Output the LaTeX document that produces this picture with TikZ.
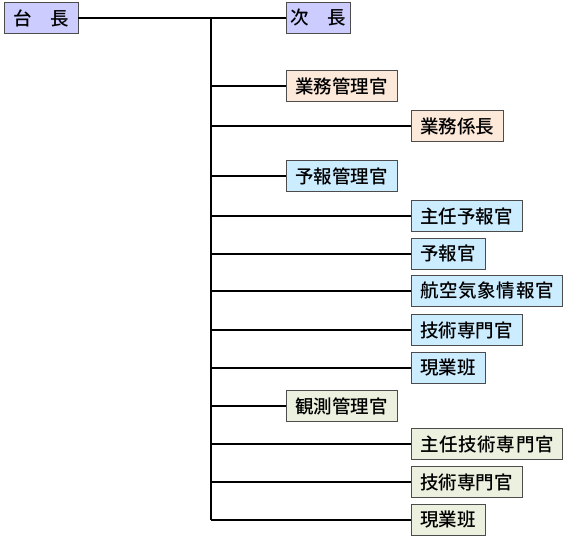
\documentclass[tikz,border=0pt]{standalone}
\usepackage{fontspec}
\setmainfont{Noto Sans CJK JP}[UprightFont=* Medium]
\newfontfamily\widefont{Noto Sans CJK JP}[UprightFont=* Medium,LetterSpace=3.5]
\definecolor{chief}{RGB}{204,204,255}
\definecolor{gyomu}{RGB}{253,233,217}
\definecolor{yoho}{RGB}{204,236,255}
\definecolor{kanso}{RGB}{235,241,222}
\tikzset{
  box/.style={draw=black!70, line width=0.8bp, inner xsep=9bp, inner ysep=0pt,
    minimum height=31bp, anchor=west, font=\fontsize{18.5bp}{20bp}\selectfont},
  wide/.style={font=\widefont\fontsize{18.5bp}{20bp}\selectfont},
  link/.style={line width=1.3bp}
}
\begin{document}
\begin{tikzpicture}[x=1bp,y=-1bp]
  \useasboundingbox (0,0) rectangle (565,544);
  \node[box,fill=chief] (dai) at (4,18) {台　長};
  \node[box,fill=chief,inner xsep=4bp] (ji) at (286,18) {次　長};
  \node[box,fill=gyomu] (gkan) at (286,86) {業務管理官};
  \node[box,fill=gyomu] (gkak) at (411,126) {業務係長};
  \node[box,fill=yoho] (ykan) at (286,176) {予報管理官};
  \node[box,fill=yoho] (syoho) at (411,216) {主任予報官};
  \node[box,fill=yoho] (yoho) at (411,254) {予報官};
  \node[box,fill=yoho,wide] (koku) at (411,291) {航空気象情報官};
  \node[box,fill=yoho] (giyo) at (411,330) {技術専門官};
  \node[box,fill=yoho] (genyo) at (411,368) {現業班};
  \node[box,fill=kanso] (kkan) at (286,406) {観測管理官};
  \node[box,fill=kanso,wide] (sgik) at (411,444) {主任技術専門官};
  \node[box,fill=kanso] (gik) at (411,482) {技術専門官};
  \node[box,fill=kanso] (genk) at (411,520) {現業班};
  % trunk
  \coordinate (top) at (211,18);
  \coordinate (bot) at (211,520);
  \draw[link] (dai) -- (ji);
  \draw[link] (top) -- (bot);
  \foreach \n in {gkan,gkak,ykan,syoho,yoho,koku,giyo,genyo,kkan,sgik,gik,genk}
    \draw[link] (\n.west -| top) -- (\n);
\end{tikzpicture}
\end{document}
